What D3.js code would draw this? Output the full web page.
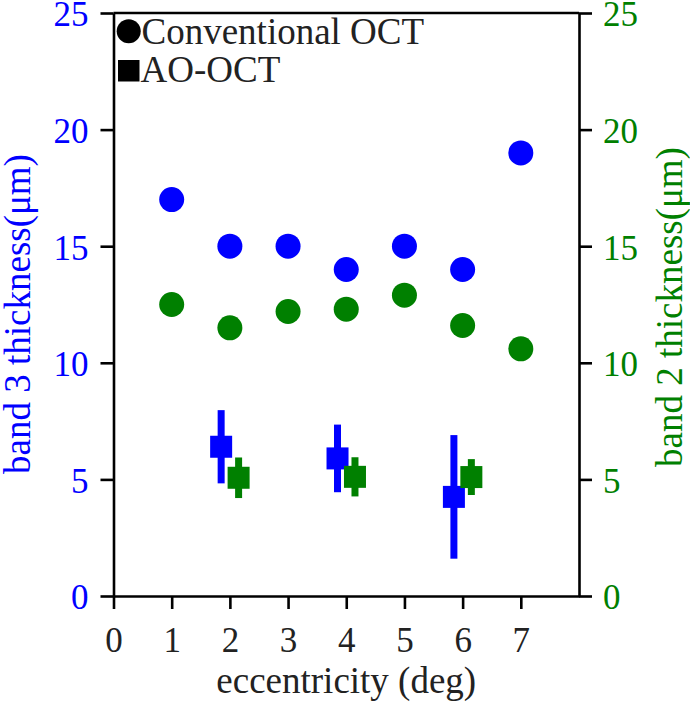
<!DOCTYPE html>
<html>
<head>
<meta charset="utf-8">
<script src="https://cdn.jsdelivr.net/npm/d3@7"></script>
<style>
  html, body { margin: 0; padding: 0; background: #fff; }
  svg { display: block; font-family: "Liberation Serif", "Times New Roman", serif; }
</style>
</head>
<body>
<svg id="chart" width="690" height="703"></svg>
<script>
// ---- data ----
const eccentricity = [1, 2, 3, 4, 5, 6, 7];
const convBand3 = [17, 15, 15, 14, 15, 14, 19];
const convBand2 = [12.5, 11.5, 12.2, 12.3, 12.9, 11.6, 10.6];
const aoEccentricity = [2, 4, 6];
const aoBand3 = [6.4, 5.9, 4.25];
const aoBand3Err = [1.57, 1.45, 2.65];
const aoBand2 = [5.07, 5.11, 5.1];
const aoBand2Err = [0.87, 0.84, 0.77];
const xTicks = [0, 1, 2, 3, 4, 5, 6, 7];
const yTicks = [0, 5, 10, 15, 20, 25];
const legendLabels = ["Conventional OCT", "AO-OCT"];

(function () {
const BLUE = "#0000ff", GREEN = "#008000";
const svg = d3.select("#chart");
const pLeft = 113.5, pRight = 579, pTop = 13, pBottom = 596;
const x = d3.scaleLinear().domain([0, 8]).range([pLeft, pRight]);
const y = d3.scaleLinear().domain([0, 25]).range([pBottom, pTop]);
const FS = 35, LFS = 37, TL = 13, SW = 2.6;

// frame (top spine)
svg.append("line").attr("x1", pLeft).attr("x2", pRight).attr("y1", pTop).attr("y2", pTop)
  .attr("stroke", "#000").attr("stroke-width", SW);

function styleAxis(g, color) {
  g.select(".domain").attr("stroke", "#000").attr("stroke-width", SW);
  g.selectAll(".tick line").attr("stroke", "#000").attr("stroke-width", SW);
  g.selectAll(".tick text").attr("fill", color).style("font-size", FS + "px")
    .style("font-family", '"Liberation Serif", "Times New Roman", serif');
}

// bottom axis
const gx = svg.append("g").attr("transform", `translate(0,${pBottom})`)
  .call(d3.axisBottom(x).tickValues(xTicks).tickFormat(d3.format("d")).tickSize(TL).tickSizeOuter(0).tickPadding(18));
styleAxis(gx, "#222");

// left axis
const gl = svg.append("g").attr("transform", `translate(${pLeft},0)`)
  .call(d3.axisLeft(y).tickValues(yTicks).tickSize(TL).tickSizeOuter(0).tickPadding(12));
styleAxis(gl, BLUE);
gl.selectAll(".tick text").attr("dy", "0.37em");

// right axis
const gr = svg.append("g").attr("transform", `translate(${pRight},0)`)
  .call(d3.axisRight(y).tickValues(yTicks).tickSize(TL).tickSizeOuter(0).tickPadding(11));
styleAxis(gr, GREEN);
gr.selectAll(".tick text").attr("dy", "0.37em");

// axis labels
svg.append("text").attr("x", x(4)).attr("y", 693).attr("text-anchor", "middle")
  .attr("fill", "#222").style("font-size", LFS + "px").text("eccentricity (deg)");
svg.append("text").attr("transform", `translate(30,314) rotate(-90)`).attr("text-anchor", "middle")
  .attr("fill", BLUE).style("font-size", LFS + "px").text("band 3 thickness(μm)");
svg.append("text").attr("transform", `translate(682,307) rotate(-90)`).attr("text-anchor", "middle")
  .attr("fill", GREEN).style("font-size", LFS + "px").text("band 2 thickness(μm)");

// conventional OCT circles
const R = 12.5;
svg.append("g").selectAll("circle").data(eccentricity).join("circle")
  .attr("cx", d => x(d)).attr("cy", (d, i) => y(convBand2[i])).attr("r", R).attr("fill", GREEN);
svg.append("g").selectAll("circle").data(eccentricity).join("circle")
  .attr("cx", d => x(d)).attr("cy", (d, i) => y(convBand3[i])).attr("r", R).attr("fill", BLUE);

// AO-OCT squares with error bars
const S = 22, EW = 7, OFF = 0.15;
function aoSeries(vals, errs, off, color) {
  const g = svg.append("g");
  g.selectAll("line").data(aoEccentricity).join("line")
    .attr("x1", d => x(d + off)).attr("x2", d => x(d + off))
    .attr("y1", (d, i) => y(vals[i] - errs[i])).attr("y2", (d, i) => y(vals[i] + errs[i]))
    .attr("stroke", color).attr("stroke-width", EW);
  g.selectAll("rect").data(aoEccentricity).join("rect")
    .attr("x", d => x(d + off) - S / 2).attr("y", (d, i) => y(vals[i]) - S / 2)
    .attr("width", S).attr("height", S).attr("fill", color);
}
aoSeries(aoBand3, aoBand3Err, -OFF, BLUE);
aoSeries(aoBand2, aoBand2Err, OFF, GREEN);

// legend
const lg = svg.append("g");
lg.append("circle").attr("cx", 128.7).attr("cy", 31.3).attr("r", 12).attr("fill", "#000");
lg.append("text").attr("x", 141.5).attr("y", 43.5).attr("fill", "#222").style("font-size", LFS + "px").text(legendLabels[0]);
lg.append("rect").attr("x", 118).attr("y", 60).attr("width", 21.5).attr("height", 21.5).attr("fill", "#000");
lg.append("text").attr("x", 140.5).attr("y", 82).attr("fill", "#222").style("font-size", LFS + "px").text(legendLabels[1]);
})();
</script>
</body>
</html>
